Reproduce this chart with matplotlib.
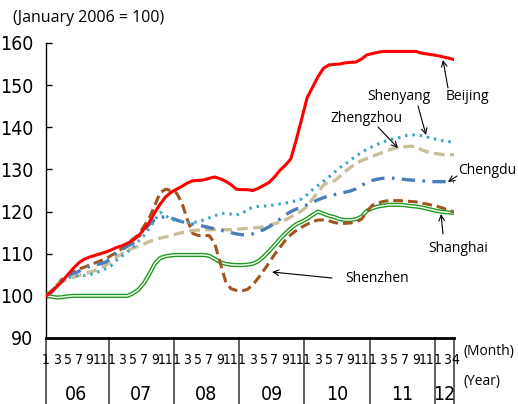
import matplotlib.pyplot as plt
import matplotlib.transforms as mtransforms
from matplotlib import font_manager as fm

# monthly index, Jan 2006 = 100 (Jan 2006 .. Apr 2012)
beijing = [100, 101, 102.2, 103.5, 105, 106.5, 107.8, 108.7, 109.2, 109.6, 110, 110.4,
           110.9, 111.5, 111.9, 112.5, 113.2, 114.2, 115.8, 117.5, 119.8, 121.8, 123.5, 124.6,
           125.3, 126, 126.8, 127.3, 127.4, 127.5, 127.9, 128.2, 127.8, 127.2, 126.4, 125.3,
           125.2, 125.2, 125.0, 125.5, 126.2, 126.9, 128.2, 129.8, 131.0, 132.5, 137, 142,
           147, 149.5, 152, 154, 154.8, 154.9, 155, 155.3, 155.4, 155.5, 156.2, 157.2,
           157.5, 157.8, 158, 158, 158, 158, 158, 158, 158, 157.6, 157.4, 157.2,
           157, 156.7, 156.4, 156.1]
shenyang = [100, 101, 102.3, 103.5, 104.3, 104.7, 104.8, 104.8, 105, 105.4, 105.9, 106.5,
            107.2, 108.5, 109.5, 110.5, 111.5, 113, 114.3, 116, 118, 119.8, 119, 118.2,
            117.8, 117.6, 117.4, 117.4, 117.6, 118, 118.5, 119, 119.5, 119.6, 119.4, 119.2,
            119.5, 120.5, 121, 121.2, 121.3, 121.4, 121.6, 121.8, 122, 122.3, 122.6, 123,
            124, 125.2, 126.2, 127.2, 128.2, 129.3, 130.4, 131.3, 132.2, 133.2, 134, 134.8,
            135.4, 136, 136.5, 137, 137.3, 137.6, 138, 138.2, 138.2, 138, 137.7, 137.4,
            137, 136.8, 136.6, 136.5]
zhengzhou = [100, 101, 102.8, 103.4, 104, 104.4, 104.8, 105.2, 105.6, 106, 106.6, 107.3,
             108.2, 109.2, 110.1, 110.8, 111.3, 111.8, 112.3, 112.9, 113.3, 113.7, 114, 114.3,
             114.7, 115, 115.3, 115.5, 115.6, 115.7, 115.7, 115.7, 115.7, 115.7, 115.7, 115.8,
             115.9, 116, 116.1, 116.2, 116.4, 116.7, 117.1, 117.5, 118, 118.7, 119.4, 120.2,
             121.2, 123, 124.6, 126.3, 127, 127.3, 128.3, 129.5, 130.5, 131.4, 132.1, 132.6,
             133.1, 133.6, 134.1, 134.6, 135, 135.2, 135.4, 135.5, 135.4, 134.7, 134.2, 133.9,
             133.7, 133.5, 133.5, 133.5]
chengdu = [100, 100.8, 102.5, 104, 104.8, 105.3, 105.8, 106.5, 107, 107.4, 107.6, 108,
           109, 110.2, 111, 111.8, 112.5, 114, 115.5, 117, 118, 118.6, 118.8, 118.5,
           118, 117.6, 117.2, 117, 116.8, 116.5, 116.2, 115.9, 115.6, 115.3, 115, 114.7,
           114.5, 114.5, 114.7, 115.2, 115.7, 116.4, 117.2, 118.2, 119.2, 120, 120.6, 121.1,
           121.6, 122.2, 122.8, 123.3, 123.7, 124, 124.3, 124.6, 124.9, 125.4, 126.2, 126.9,
           127.4, 127.7, 127.9, 127.9, 127.9, 127.8, 127.6, 127.5, 127.4, 127.3, 127.2, 127.1,
           127.1, 127.1, 127.1, 127.1]
shenzhen = [100, 101.2, 102.6, 104, 105, 105.6, 106.3, 106.8, 107.3, 107.8, 108.3, 108.8,
            109.6, 110.3, 111.3, 112.5, 113.5, 114.5, 116.5, 118.5, 121.5, 124.5, 125.3, 125,
            124.4, 122, 118, 114.8, 114.3, 114.3, 114.3, 112.5, 108, 103.5, 101.7, 101.3,
            101.2, 101.5, 102.6, 104.2, 106, 107.8, 109.8, 111.5, 113.2, 114.5, 115.5, 116.3,
            117, 117.6, 118, 118, 117.8, 117.4, 117.2, 117.2, 117.3, 117.5, 118.2, 120,
            121.5, 122, 122.4, 122.6, 122.6, 122.6, 122.5, 122.4, 122.3, 122, 121.8, 121.5,
            121.2, 120.8, 120.3, 119.9]
shanghai = [100, 99.8, 99.6, 99.7, 99.9, 100, 100, 100, 100, 100, 100, 100,
            100, 100, 100, 100, 100.6, 101.5, 103, 105.2, 107.6, 109, 109.4, 109.6,
            109.7, 109.7, 109.7, 109.7, 109.7, 109.7, 109.5, 108.8, 108, 107.6, 107.4, 107.3,
            107.3, 107.4, 107.6, 108.2, 109.3, 110.6, 112, 113.5, 114.8, 116, 117, 117.6,
            118.3, 119.2, 120, 119.5, 119, 118.7, 118.2, 118, 118, 118.2, 118.8, 120.2,
            120.8, 121.2, 121.4, 121.6, 121.6, 121.6, 121.5, 121.3, 121.2, 121, 120.7, 120.4,
            120.1, 119.9, 119.8, 119.7]

years = ['06', '07', '08', '09', '10', '11', '12']
month_labels = ['1', '3', '5', '7', '9', '11']
month_labels_last = ['1', '3', '4']

n = len(beijing)
x = list(range(n))


def narrow_file():
    # look for a condensed sans face; None if there is none
    for name in ['Liberation Sans Narrow', 'DejaVu Sans', 'Noto Sans', 'Roboto', 'Open Sans']:
        for f in fm.fontManager.ttflist:
            if f.name != name or f.style != 'normal' or f.weight not in (400, 'normal', 'regular'):
                continue
            if name.endswith('Narrow') or 'condensed' in str(f.stretch):
                return f.fname
    return None


nf = narrow_file()


def nprop(size):
    if nf:
        return fm.FontProperties(fname=nf, size=size)
    return fm.FontProperties(family='DejaVu Sans', size=size * 0.85)


label_font = ['Open Sans', 'DejaVu Sans']

fig = plt.figure(figsize=(5.18, 4.04), dpi=100)
ax = fig.add_axes([46 / 518, 66 / 404, 408 / 518, 295 / 404])

ax.plot(x, shanghai, color='#1f9a1f', lw=3.0, zorder=2)
ax.plot(x, shanghai, color='white', lw=1.0, zorder=2)
ax.plot(x, shenzhen, color='#a0561e', lw=2.2, ls=(0, (3.2, 1.6)), zorder=3)
ax.plot(x, zhengzhou, color='#c9c09a', lw=2.4, ls=(0, (3.2, 1.6)), zorder=3)
ax.plot(x, chengdu, color='#4a7ebb', lw=2.4, ls=(0, (4, 2.2, 0.8, 2.2)), zorder=3)
ax.plot(x, shenyang, color='#3fa6c0', lw=2.2, ls=(0, (0.8, 1.6)), zorder=3)
ax.plot(x, beijing, color='#ff0000', lw=2.2, zorder=4)

ax.set_xlim(0, n - 1)
ax.set_ylim(90, 160)
ax.set_yticks(range(90, 161, 10))
ax.tick_params(axis='y', direction='in', length=4, width=1, pad=9)
for lab in ax.get_yticklabels():
    lab.set_fontproperties(nprop(14))
ax.spines[['top', 'right']].set_visible(False)
ax.spines['left'].set_linewidth(1)
ax.spines['bottom'].set_linewidth(2)
ax.set_xticks([])

# two level category axis
trans = mtransforms.blended_transform_factory(ax.transData, ax.transAxes)
for k in range(6):
    for j, m in enumerate(month_labels):
        ax.text(12 * k + 2 * j, -0.075, m, transform=trans, ha='center', va='center',
                fontproperties=nprop(10))
ax.text(72, -0.075, month_labels_last[0], transform=trans, ha='center', va='center',
        fontproperties=nprop(10))
ax.text(74.5, -0.075, month_labels_last[1], transform=trans, ha='right', va='center',
        fontproperties=nprop(10))
ax.text(74.5, -0.075, month_labels_last[2], transform=trans, ha='left', va='center',
        fontproperties=nprop(10))

for b in [0, 11.5, 23.5, 35.5, 47.5, 59.5, 71.5, n - 1]:
    ax.plot([b, b], [0, -0.23], transform=trans, color='#444444', lw=1.2, clip_on=False)
for k, yr in enumerate(years):
    cx = 12 * k + 5.5 if k < 6 else (71.5 + n - 1) / 2
    ax.text(cx, -0.19, yr, transform=trans, ha='center', va='center',
            fontproperties=nprop(14))

fig.text(463 / 518, 1 - 352 / 404, '(Month)', family=label_font, fontsize=10, va='center')
fig.text(463 / 518, 1 - 381 / 404, '(Year)', family=label_font, fontsize=10, va='center')
fig.text(13 / 518, 1 - 18 / 404, '(January 2006 = 100)', family=label_font, fontsize=11.5,
         va='center')


# city labels with arrows, positions in pixels of the figure
def px(xp, yp):
    return (xp / 518, 1 - yp / 404)


arrow = dict(arrowstyle='->', color='black', lw=0.8, shrinkA=0, shrinkB=0)
notes = [
    ('Beijing', (467, 97), (448, 88), (443, 60)),
    ('Shenyang', (399, 96), (418, 106), (426, 135)),
    ('Zhengzhou', (367, 118), (378, 127), (398, 148)),
    ('Chengdu', (487, 171), (457, 176), (448, 182)),
    ('Shanghai', (458, 249), (443, 234), (441, 214)),
    ('Shenzhen', (377, 279), (332, 278), (272, 272)),
]
for name, tpos, tail, head in notes:
    fig.text(*px(*tpos), name, family=label_font, fontsize=10, ha='center', va='center')
    ax.annotate('', xy=px(*head), xycoords='figure fraction',
                xytext=px(*tail), textcoords='figure fraction', arrowprops=arrow)

fig.savefig('out.png', dpi=100)
